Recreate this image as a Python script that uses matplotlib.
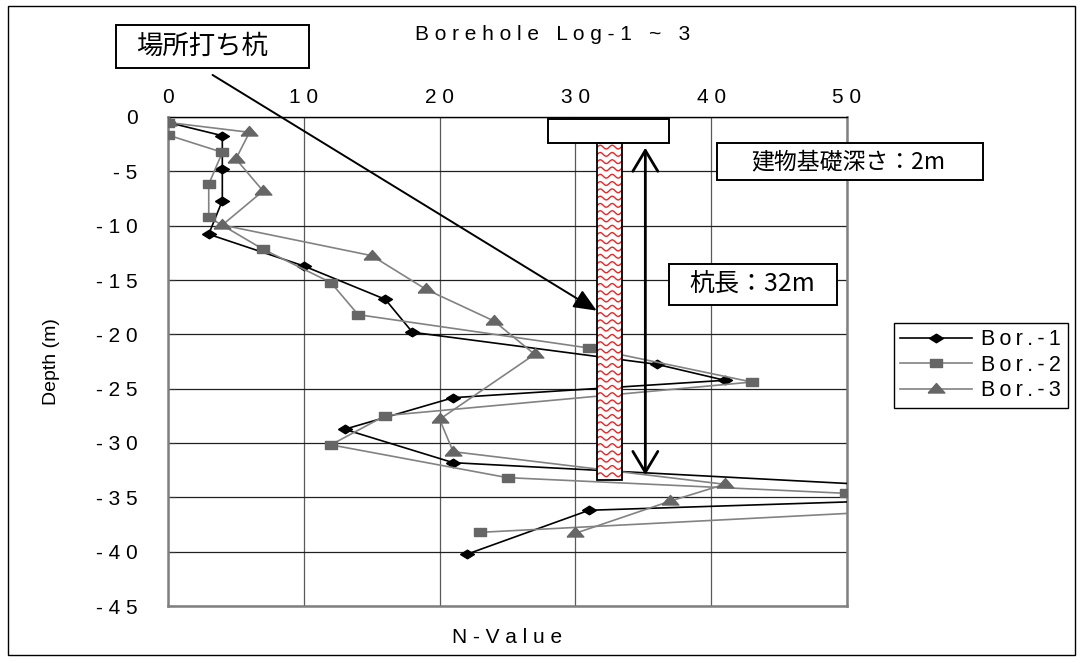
import numpy as np
import matplotlib
matplotlib.use("Agg")
import matplotlib.pyplot as plt
from matplotlib.patches import Rectangle
from matplotlib.ticker import FixedLocator, FuncFormatter

# N-value (x) against depth in m (y), one pair of lists per borehole.
# points past N=50 run off the right edge of the chart
BOR1_N = [0, 4, 4, 4, 3, 10, 16, 18, 36, 41, 21, 13, 21, 66, 31, 22]
BOR1_D = [-0.5, -1.72, -4.81, -7.70, -10.79, -13.71, -16.78, -19.81, -22.76,
          -24.23, -25.83, -28.74, -31.81, -34.78, -36.19, -40.24]
BOR2_N = [0, 0, 4, 3, 3, 7, 12, 14, 31, 43, 16, 12, 25, 49.9, 55, 23]
BOR2_D = [-0.52, -1.66, -3.25, -6.19, -9.23, -12.17, -15.24, -18.19, -21.26,
          -24.39, -27.48, -30.17, -33.19, -34.63, -36.16, -38.22]
BOR3_N = [0, 6, 5, 7, 4, 15, 19, 24, 27, 20, 21, 41, 37, 30]
BOR3_D = [-0.5, -1.41, -3.86, -6.81, -9.94, -12.76, -15.86, -18.77, -21.84,
          -27.82, -30.80, -33.80, -35.34, -38.31]
LABELS = ["Bor.-1", "Bor.-2", "Bor.-3"]

X_TICKS = [0, 10, 20, 30, 40, 50]
Y_TICKS = [0, -5, -10, -15, -20, -25, -30, -35, -40, -45]

TITLE = "Borehole Log-1 ~ 3"
PILE_LABEL = "場所打ち杭"
PILE_LEN_LABEL = "杭長：32m"
FOUND_LABEL = "建物基礎深さ：2m"

W, H = 1083, 663
plt.rcParams["font.family"] = ["Liberation Sans", "DejaVu Sans"]
CJK = ["Noto Sans CJK JP", "DejaVu Sans"]


def spaced(s, gap=" "):
    # the source chart renders latin text letter-spaced
    return gap.join(s)


def fx(px):
    return px / W


def fy(py):
    return 1 - py / H


# squat marker shapes like the old spreadsheet ones
DIAMOND = [(-1, 0), (0, 0.62), (1, 0), (0, -0.62), (-1, 0)]
RECT = [(-1, -0.68), (1, -0.68), (1, 0.68), (-1, 0.68), (-1, -0.68)]
TRI = [(-1, -0.42), (1, -0.42), (0, 0.72), (-1, -0.42)]

fig = plt.figure(figsize=(W / 100, H / 100), dpi=100)
ax = fig.add_axes([fx(168), fy(606), fx(847) - fx(168), fy(117) - fy(606)])

l1, = ax.plot(BOR1_N, BOR1_D, color="black", lw=1.2, marker=DIAMOND, ms=10,
              mfc="black", mec="black", zorder=3, label=spaced(LABELS[0], "\u2009"))
l2, = ax.plot(BOR2_N, BOR2_D, color="#828282", lw=1.2, marker=RECT, ms=9,
              mfc="#666666", mec="#666666", zorder=3, label=spaced(LABELS[1], "\u2009"))
l3, = ax.plot(BOR3_N, BOR3_D, color="#828282", lw=1.2, marker=TRI, ms=12,
              mfc="#666666", mec="#666666", zorder=3, label=spaced(LABELS[2], "\u2009"))

ax.set_xlim(0, 50)
ax.set_ylim(-45, 0)
ax.xaxis.tick_top()
ax.xaxis.set_major_locator(FixedLocator(X_TICKS))
ax.yaxis.set_major_locator(FixedLocator(Y_TICKS))
fmt = FuncFormatter(lambda v, _: spaced(f"{v:g}"))
ax.xaxis.set_major_formatter(fmt)
ax.yaxis.set_major_formatter(fmt)
ax.tick_params(axis="x", length=0, pad=7, labelsize=15)
ax.tick_params(axis="y", direction="in", length=5, color="#333333", pad=22, labelsize=15)

ax.set_axisbelow(True)
ax.xaxis.grid(True, color="#5a5a5a", lw=0.9)
ax.yaxis.grid(True, color="#202020", lw=0.9)
for side in ("left", "right", "bottom"):
    ax.spines[side].set_color("#808080")
    ax.spines[side].set_linewidth(1.8)
ax.spines["top"].set_color("black")
ax.spines["top"].set_linewidth(1.0)

ax.xaxis.set_label_position("bottom")
ax.set_xlabel(spaced("N-Value"), fontsize=15, labelpad=16)
ax.set_ylabel("Depth (m)", fontsize=14, labelpad=26)

fig.text(fx(553), fy(35), spaced(TITLE), ha="center", va="center", fontsize=15)

# pile: cap + shaft with red wavy fill
cap = Rectangle((28.0, -2.42), 8.9, 2.21, facecolor="white", edgecolor="black",
                lw=1.4, zorder=5)
ax.add_patch(cap)
x0, x1, top, bot = 31.61, 33.41, -2.42, -33.4
shaft = Rectangle((x0, bot), x1 - x0, top - bot, facecolor="white",
                  edgecolor="none", zorder=4)
ax.add_patch(shaft)
xs = np.linspace(x0, x1, 80)
for y0 in np.arange(top - 0.35, bot, -0.67):
    wave, = ax.plot(xs, y0 + 0.17 * np.sin(2 * np.pi * (xs - x0) / 0.88),
                    color="#ee2222", lw=1.0, zorder=4.5)
    wave.set_clip_path(shaft)
ax.add_patch(Rectangle((x0, bot), x1 - x0, top - bot, fill=False,
                       edgecolor="black", lw=1.3, zorder=5))

# pile length double arrow
ax.annotate("", xy=(35.15, -32.94), xytext=(35.15, -2.83),
            arrowprops=dict(arrowstyle="<->,head_length=0.75,head_width=0.45",
                            mutation_scale=20, lw=2, color="black",
                            shrinkA=0, shrinkB=0), zorder=6)

# labelled boxes
boxes = [
    ((40.4, -5.78), 19.6, 3.37, (50.1, -4.1), FOUND_LABEL, 16.5),
    ((36.9, -17.32), 12.4, 3.83, (43.0, -15.4), PILE_LEN_LABEL, 18),
    ((-3.83, 4.51), 14.21, 3.96, (2.54, 6.5), PILE_LABEL, 19),
]
for (bx, by), bw, bh, (tx, ty), txt, fs in boxes:
    ax.add_patch(Rectangle((bx, by), bw, bh, facecolor="white", edgecolor="black",
                           lw=1.4, zorder=6, clip_on=False))
    ax.text(tx, ty, txt, family=CJK, fontsize=fs, ha="center", va="center",
            zorder=7, clip_on=False)

ax.annotate("", xy=(31.57, -17.82), xytext=(3.28, 3.87), annotation_clip=False,
            arrowprops=dict(arrowstyle="-|>,head_length=0.7,head_width=0.3",
                            mutation_scale=20, lw=1.4, color="black",
                            shrinkA=0, shrinkB=0), zorder=6)

leg = ax.legend(handles=[l1, l2, l3], loc="upper left",
                bbox_to_anchor=(fx(894), fy(323)), bbox_transform=fig.transFigure,
                borderaxespad=0, fancybox=False, edgecolor="black", framealpha=1,
                fontsize=15.5, handlelength=3.3, handletextpad=0.45,
                labelspacing=0.2, borderpad=0.3)
leg.get_frame().set_linewidth(1.0)

fig.patches.append(Rectangle((fx(8), fy(655)), fx(1075) - fx(8), fy(6) - fy(655),
                             transform=fig.transFigure, fill=False,
                             edgecolor="black", lw=1.0))

fig.savefig("out.png", dpi=100)
